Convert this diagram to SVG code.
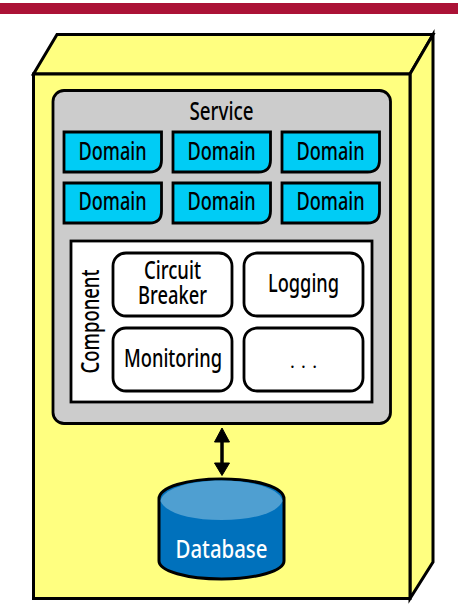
<svg xmlns="http://www.w3.org/2000/svg" width="458" height="610" viewBox="0 0 458 610">
<style>
.o{stroke:#000;stroke-width:3;stroke-linejoin:miter}
.y{fill:#ffff80}
.d{fill:#00ccf5;stroke:#000;stroke-width:2.800}
.r{fill:#fff;stroke:#000;stroke-width:2.800}
text{font-family:"Noto Sans","Liberation Sans",sans-serif;font-size:25.500px;font-weight:500;fill:#000;text-anchor:middle}
</style>
<defs>
<path id="dm" d="M0 0H97.500V28Q97.500 40 85.500 40H0Z"/>
</defs>
<rect width="458" height="610" fill="#fff"/>
<rect x="0" y="3" width="458" height="11" fill="#ab1236"/>
<g id="box">
<path class="o y" d="M33.500 74L57 34.500H433L410 74Z"/>
<path class="o y" d="M410 74L433 34.500V562L410 598.500Z"/>
<rect class="o y" x="33.500" y="74" width="376.500" height="524.500"/>
</g>
<g id="service">
<rect x="53" y="90.500" width="337.500" height="333" rx="11" fill="#ccc" stroke="#000" stroke-width="2.800"/>
<text x="221.500" y="120" textLength="64" lengthAdjust="spacingAndGlyphs">Service</text>
</g>
<g id="domain1"><use href="#dm" x="64" y="132" class="d"/><text x="112.500" y="159.500" textLength="68" lengthAdjust="spacingAndGlyphs">Domain</text></g>
<g id="domain2"><use href="#dm" x="173" y="132" class="d"/><text x="221.500" y="159.500" textLength="68" lengthAdjust="spacingAndGlyphs">Domain</text></g>
<g id="domain3"><use href="#dm" x="282" y="132" class="d"/><text x="330.500" y="159.500" textLength="68" lengthAdjust="spacingAndGlyphs">Domain</text></g>
<g id="domain4"><use href="#dm" x="64" y="183" class="d"/><text x="112.500" y="210" textLength="68" lengthAdjust="spacingAndGlyphs">Domain</text></g>
<g id="domain5"><use href="#dm" x="173" y="183" class="d"/><text x="221.500" y="210" textLength="68" lengthAdjust="spacingAndGlyphs">Domain</text></g>
<g id="domain6"><use href="#dm" x="282" y="183" class="d"/><text x="330.500" y="210" textLength="68" lengthAdjust="spacingAndGlyphs">Domain</text></g>
<g id="component">
<rect x="71" y="241" width="301" height="161" fill="#fff" stroke="#000" stroke-width="2.800"/>
<text transform="translate(99 321.500) rotate(-90)" textLength="104" lengthAdjust="spacingAndGlyphs">Component</text>
</g>
<g id="circuit-breaker">
<rect class="r" x="113" y="253" width="119" height="63" rx="13"/>
<text x="172.500" y="279" textLength="57" lengthAdjust="spacingAndGlyphs">Circuit</text>
<text x="172.500" y="304" textLength="69" lengthAdjust="spacingAndGlyphs">Breaker</text>
</g>
<g id="logging">
<rect class="r" x="244" y="253" width="119" height="63" rx="13"/>
<text x="303.500" y="292" textLength="71" lengthAdjust="spacingAndGlyphs">Logging</text>
</g>
<g id="monitoring">
<rect class="r" x="113" y="328" width="119" height="63" rx="13"/>
<text x="173" y="367" textLength="98" lengthAdjust="spacingAndGlyphs">Monitoring</text>
</g>
<g id="more">
<rect class="r" x="244" y="328" width="119" height="63" rx="13"/>
<text x="303.500" y="368" textLength="27" style="font-size:18px;font-weight:400">...</text>
</g>
<g id="connectors">
<path d="M222 438V465" stroke="#000" stroke-width="3.500" fill="none"/>
<path d="M222 428L229.500 442H214.500Z M222 475.500L229.500 463H214.500Z" fill="#000" stroke="#000" stroke-width="1"/>
</g>
<g id="database">
<path d="M159 499C159 487 187 479 221.500 479S284 487 284 499V561C284 571 256 579 221.500 579S159 571 159 561Z" fill="#0071bc" stroke="#000" stroke-width="3"/>
<path d="M160.500 501C162 490 187 480.500 221.500 480.500S281 490 282.500 501C278 512 256 520 221.500 520S165 512 160.500 501Z" fill="#4f9fd1"/>
<text x="221.500" y="557.500" textLength="92" lengthAdjust="spacingAndGlyphs" style="fill:#fff">Database</text>
</g>
</svg>
